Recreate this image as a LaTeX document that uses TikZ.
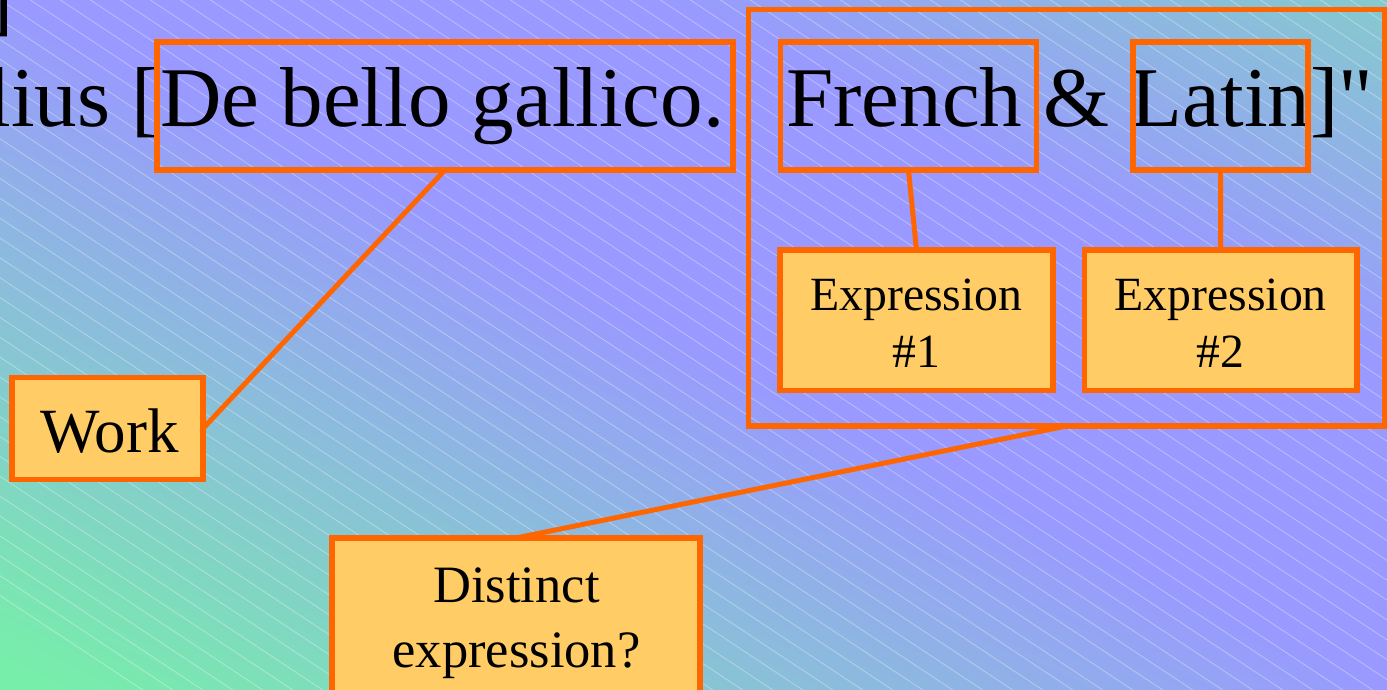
\documentclass[tikz,border=0pt]{standalone}
\usepackage{fontspec}
\setmainfont{Liberation Serif}[Ligatures=TeXOff]
\definecolor{org}{HTML}{FF6600}
\definecolor{ylw}{HTML}{FFCC66}
\definecolor{grn}{HTML}{77EEAA}
\definecolor{lav}{HTML}{9999FF}
\begin{document}
\begin{tikzpicture}[x=1pt,y=-1pt,
  obox/.style={rectangle, draw=org, line width=5.5pt, inner sep=0pt, outer sep=0pt},
  ybox/.style={obox, fill=ylw},
  conn/.style={draw=org, line width=5pt},
  bgline/.style={draw=white, opacity=0.35, line width=0.8pt},
  bigtxt/.style={font=\fontsize{85}{100}\selectfont, inner sep=0pt, text=black},
  etxt/.style={font=\fontsize{47.7}{57}\selectfont, inner sep=0pt, align=center, text=black},
  dtxt/.style={font=\fontsize{52.5}{65}\selectfont, inner sep=0pt, align=center, text=black},
  wtxt/.style={font=\fontsize{63}{70}\selectfont, inner sep=0pt, text=black}]
\useasboundingbox (0,0) rectangle (1387,690);
\clip (0,0) rectangle (1387,690);
% background gradient
\foreach \s in {-640,-635,...,640}{
  \pgfmathsetmacro\f{\s<0 ? min(100,(0-\s)/5.9) : (\s<290 ? 0 : min(100,(\s-290)/5.6))}
  \pgfmathsetmacro\xa{693.5+0.4454*\s}
  \pgfmathsetmacro\ya{345-0.8954*\s}
  \pgfmathsetmacro\xb{693.5+0.4454*(\s+6)}
  \pgfmathsetmacro\yb{345-0.8954*(\s+6)}
  \fill[grn!\f!lav] (\xa-805.9,\ya-400.9) -- (\xa+805.9,\ya+400.9) -- (\xb+805.9,\yb+400.9) -- (\xb-805.9,\yb-400.9) -- cycle;
}
% diagonal pattern
\foreach \k in {-35,...,41}{
  \draw[bgline] ({150.4+30*\k},0) -- ({1192.7+30*\k},690);
}
% title text
\node[bigtxt, anchor=base east] (t00) at (14,26) {]};
\node[bigtxt, anchor=base west] (t1) at (160,127) {De bello gallico.};
\node[bigtxt, anchor=base east] (t0) at (t1.base west) {Julius [};
\node[bigtxt, anchor=base west] (t2) at (786,127) {French \& Latin]"};
% outline boxes
\node[obox, minimum width=576pt, minimum height=128pt] (db) at (445,106) {};
\node[obox, minimum width=256pt, minimum height=128pt] (fr) at (908.5,106) {};
\node[obox, minimum width=175pt, minimum height=128pt] (la) at (1220.5,106) {};
\node[obox, minimum width=636pt, minimum height=416.3pt] (cont) at (1066.5,217.85) {};
% filled boxes
\node[ybox, minimum width=273pt, minimum height=140.5pt] (e1) at (916.5,320.25) {};
\node[ybox, minimum width=272.5pt, minimum height=140.5pt] (e2) at (1220.75,320.25) {};
\node[ybox, minimum width=191pt, minimum height=102pt] (work) at (107.5,428.5) {};
\node[ybox, minimum width=368pt, minimum height=182pt] (dist) at (516,629) {};
% labels (base anchor = last line)
\node[etxt, anchor=base] (e1t) at (916.5,367) {Expression\\\#1};
\node[etxt, anchor=base] (e2t) at (1220.75,367) {Expression\\\#2};
\node[wtxt, anchor=base] (workt) at (109.5,452) {Work};
\node[dtxt, anchor=base] (distt) at (516.5,667) {Distinct\\expression?};
% connectors
\draw[conn] (db.south) -- (work.east);
\draw[conn] (fr.south) -- (e1.north);
\draw[conn] (la.south) -- (e2.north);
\draw[conn] (cont.south) -- (dist.north);
\end{tikzpicture}
\end{document}
